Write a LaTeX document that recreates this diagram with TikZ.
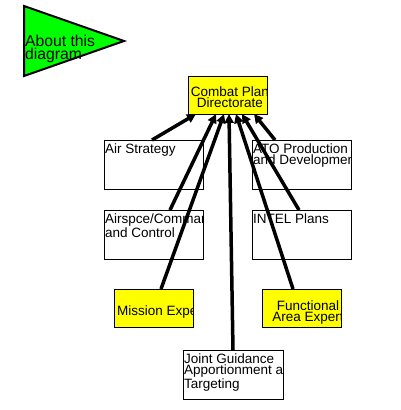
\documentclass[tikz,border=0pt]{standalone}
\usepackage{fontspec}
\setmainfont{Liberation Sans}
\usetikzlibrary{arrows.meta,calc}
\definecolor{planyellow}{RGB}{255,255,0}
\definecolor{flaggreen}{RGB}{0,255,0}
\begin{document}
\begin{tikzpicture}[x=1pt,y=-1pt,
  unit/.style={draw,line width=1pt,fill=white,anchor=north west,inner sep=0,outer sep=0},
  unittext/.style={inner sep=0,align=left,font=\fontsize{13.5}{10.8}\selectfont},
  feed/.style={line width=3.5pt,-{Triangle[length=9pt,width=9pt]}}]
  \useasboundingbox (0,0) rectangle (401,410);
  % about flag
  \draw[line width=2pt,fill=flaggreen] (24,6) -- (124,41) -- (24,76) -- cycle;
  \node[anchor=north west,inner sep=0,align=left,font=\fontsize{15.7}{12.5}\selectfont]
    (about) at (25,35) {About this\\diagram};
  % directorate
  \node[unit,fill=planyellow,minimum width=79,minimum height=38] (combat) at (188,76) {};
  \begin{scope}
    \clip (combat.north west) rectangle (combat.south east);
    \node[unittext,align=center,anchor=north] (combattext) at (230,86.5) {Combat Plan\\Directorate};
  \end{scope}
  % cells
  \node[unit,minimum width=99,minimum height=49] (air) at (104,140) {};
  \node[unittext,anchor=north west] (airtext) at ($(air.north west)+(1,3.5)$) {Air Strategy};
  \node[unit,minimum width=99,minimum height=49] (ato) at (252,140) {};
  \begin{scope}
    \clip (ato.north west) rectangle (ato.south east);
    \node[unittext,anchor=north west] (atotext) at ($(ato.north west)+(1,3.5)$) {ATO Production\\and Development};
  \end{scope}
  \node[unit,minimum width=99,minimum height=49] (airspace) at (104,210) {};
  \begin{scope}
    \clip (airspace.north west) rectangle (airspace.south east);
    \node[unittext,anchor=north west] (airspacetext) at ($(airspace.north west)+(1,3.5)$) {Airspce/Command\\and Control};
  \end{scope}
  \node[unit,minimum width=99,minimum height=49] (intel) at (252,210) {};
  \node[unittext,anchor=north west] (inteltext) at ($(intel.north west)+(1,3.5)$) {INTEL Plans};
  % experts
  \node[unit,fill=planyellow,minimum width=79,minimum height=38] (mission) at (114,289) {};
  \begin{scope}
    \clip (mission.north west) rectangle (mission.south east);
    \node[unittext,anchor=north west] (missiontext) at (117,306) {Mission Expert};
  \end{scope}
  \node[unit,fill=planyellow,minimum width=79,minimum height=38] (functional) at (262,289) {};
  \begin{scope}
    \clip (functional.north west) rectangle (functional.south east);
    \node[unittext,align=center,anchor=north] (functionaltext) at (308,301) {Functional\\Area Expert};
  \end{scope}
  \node[unit,minimum width=100,minimum height=49] (joint) at (183,350) {};
  \begin{scope}
    \clip (joint.north west) rectangle (joint.south east);
    \node[unittext,anchor=north west] (jointtext) at ($(joint.north west)+(1,4)$) {Joint Guidance\\Apportionment and\\Targeting};
  \end{scope}
  % links to directorate
  \draw[feed] ([xshift=-1.5pt]air.north) -- ([xshift=-31.5pt]combat.south);
  \draw[feed] ([xshift=16.5pt]airspace.north) -- ([xshift=-11.5pt]combat.south);
  \draw[feed] ([xshift=7.5pt]mission.north) -- ([xshift=-3.5pt]combat.south);
  \draw[feed] (joint.north) -- ([xshift=1.5pt]combat.south);
  \draw[feed] ([xshift=-8.5pt]functional.north) -- ([xshift=8.5pt]combat.south);
  \draw[feed] ([xshift=-2.5pt]intel.north) -- ([xshift=14.5pt]combat.south);
  \draw[feed] ([xshift=-26.5pt]ato.north) -- ([xshift=26.5pt]combat.south);
\end{tikzpicture}
\end{document}
